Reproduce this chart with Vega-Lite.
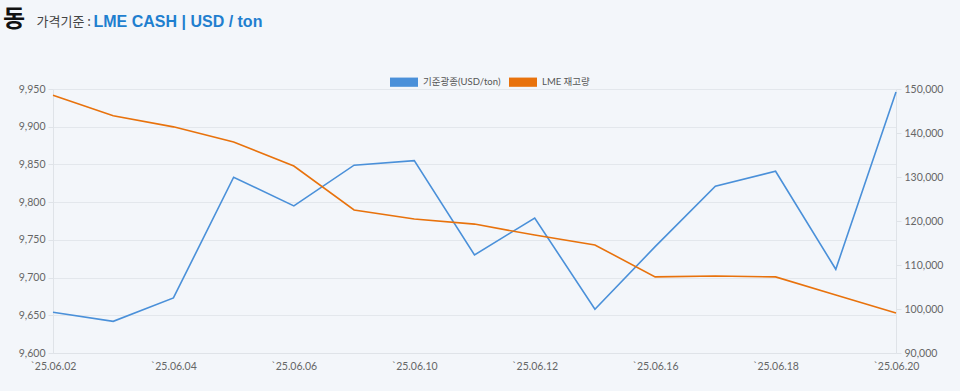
{
  "$schema": "https://vega.github.io/schema/vega-lite/v6.json",
  "width": 843,
  "height": 264,
  "autosize": {"type": "none"},
  "padding": {"left": 53, "top": 89, "right": 64, "bottom": 38},
  "background": "#f3f6fa",
  "config": {
    "font": "Lato, 'Noto Sans CJK KR', sans-serif",
    "view": {"stroke": null},
    "axis": {
      "labelColor": "#666666",
      "labelFontSize": 10.5,
      "domainColor": "#dfe3e8",
      "tickColor": "#dfe3e8",
      "gridColor": "#e3e7ec"
    }
  },
  "title": {
    "text": "동",
    "anchor": "start",
    "frame": "group",
    "dx": -50,
    "dy": 29,
    "offset": 10,
    "fontSize": 24,
    "fontWeight": "bold",
    "color": "#111111",
    "font": "'Noto Sans CJK KR', sans-serif"
  },
  "data": {
    "values": [
      {"date": "`25.06.02", "price": 9654, "stock": 148600},
      {"date": "`25.06.03", "price": 9642, "stock": 143900},
      {"date": "`25.06.04", "price": 9673, "stock": 141400},
      {"date": "`25.06.05", "price": 9833, "stock": 137950},
      {"date": "`25.06.06", "price": 9795, "stock": 132500},
      {"date": "`25.06.09", "price": 9849, "stock": 122500},
      {"date": "`25.06.10", "price": 9855, "stock": 120450},
      {"date": "`25.06.11", "price": 9730, "stock": 119300},
      {"date": "`25.06.12", "price": 9779, "stock": 116800},
      {"date": "`25.06.13", "price": 9658, "stock": 114550},
      {"date": "`25.06.16", "price": 9741, "stock": 107300},
      {"date": "`25.06.17", "price": 9821, "stock": 107500},
      {"date": "`25.06.18", "price": 9841, "stock": 107300},
      {"date": "`25.06.19", "price": 9711, "stock": 103200},
      {"date": "`25.06.20", "price": 9946, "stock": 99100}
    ]
  },
  "encoding": {
    "x": {
      "field": "date",
      "type": "ordinal",
      "sort": null,
      "scale": {"type": "point", "padding": 0},
      "axis": {
        "title": null,
        "labelAngle": 0,
        "ticks": false,
        "labelPadding": 8,
        "values": ["`25.06.02", "`25.06.04", "`25.06.06", "`25.06.10", "`25.06.12", "`25.06.16", "`25.06.18", "`25.06.20"]
      }
    }
  },
  "layer": [
    {
      "mark": {"type": "line", "strokeWidth": 1.6},
      "encoding": {
        "y": {
          "field": "price",
          "type": "quantitative",
          "scale": {"domain": [9600, 9950], "nice": false, "zero": false},
          "axis": {
            "title": "가격기준 :",
            "titleAngle": 0,
            "titleX": -17,
            "titleY": -64,
            "titleAlign": "left",
            "titleBaseline": "alphabetic",
            "titleFontSize": 13,
            "titleFontWeight": "normal",
            "titleColor": "#444444",
            "titleFont": "'Noto Sans CJK KR', sans-serif",
            "format": ",.0f",
            "values": [9600, 9650, 9700, 9750, 9800, 9850, 9900, 9950],
            "tickSize": 5,
            "labelPadding": 3,
            "grid": true
          }
        },
        "color": {
          "datum": "기준광종(USD/ton)",
          "type": "nominal",
          "scale": {"domain": ["기준광종(USD/ton)", "LME 재고량"], "range": ["#4a90d9", "#e8720c"]},
          "legend": {
            "orient": "none",
            "legendX": 337,
            "legendY": -21,
            "direction": "horizontal",
            "title": null,
            "symbolType": "M-1,-0.33H1V0.33H-1Z",
            "symbolSize": 784,
            "symbolStrokeWidth": 0,
            "labelFontSize": 9.5,
            "labelColor": "#555555",
            "labelOffset": 5,
            "columnPadding": 8,
            "encode": {
              "symbols": {"update": {"fill": {"scale": "color", "field": "value"}, "fillOpacity": {"value": 1}, "strokeWidth": {"value": 0}}}
            }
          }
        }
      }
    },
    {
      "mark": {"type": "line", "strokeWidth": 1.6},
      "encoding": {
        "y": {
          "field": "stock",
          "type": "quantitative",
          "scale": {"domain": [90000, 150000], "nice": false, "zero": false},
          "axis": {
            "orient": "right",
            "title": "LME CASH | USD / ton",
            "titleAngle": 0,
            "titleX": -803,
            "titleY": -63,
            "titleAlign": "left",
            "titleBaseline": "alphabetic",
            "titleFontSize": 16,
            "titleFontWeight": "bold",
            "titleColor": "#1f7fcf",
            "titleFont": "'Liberation Sans', Arial, sans-serif",
            "format": ",.0f",
            "values": [90000, 100000, 110000, 120000, 130000, 140000, 150000],
            "tickSize": 5,
            "labelPadding": 3,
            "grid": false
          }
        },
        "color": {"datum": "LME 재고량", "type": "nominal"}
      }
    }
  ],
  "resolve": {"scale": {"y": "independent"}}
}
